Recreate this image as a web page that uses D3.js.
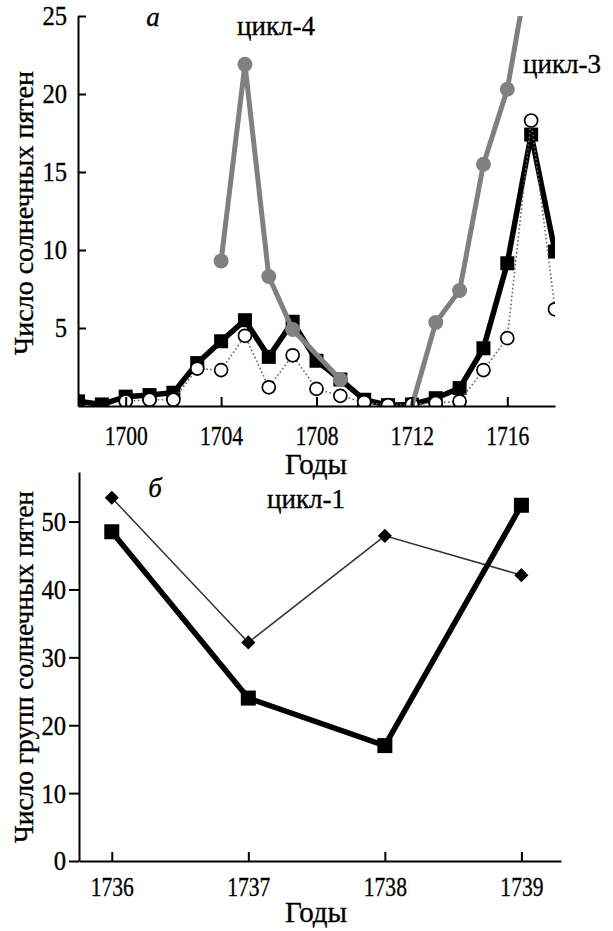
<!DOCTYPE html>
<html>
<head>
<meta charset="utf-8">
<script src="https://cdn.jsdelivr.net/npm/d3@7"></script>
<style>
  body { margin: 0; background: #fff; }
  svg text { stroke: #000; stroke-width: 0.35px; }
</style>
</head>
<body>
<script>
// ---- panel a: sunspot numbers, 1698-1718 ----
var yearsTop = [1698, 1699, 1700, 1701, 1702, 1703, 1704, 1705, 1706, 1707, 1708,
                1709, 1710, 1711, 1712, 1713, 1714, 1715, 1716, 1717, 1718];
// black squares, thick line
var spotsSquares = [0.3, 0.1, 0.6, 0.7, 0.85, 2.75, 4.15, 5.5, 3.15, 5.4, 2.9,
                    1.7, 0.4, 0.05, 0.1, 0.5, 1.15, 3.7, 9.15, 17.4, 9.9];
// open circles, dotted line (no values before 1700)
var spotsCircles = [null, null, 0.3, 0.4, 0.4, 2.4, 2.3, 4.5, 1.2, 3.25, 1.1,
                    0.65, 0.25, 0.05, 0.1, 0.2, 0.3, 2.3, 4.35, 18.3, 6.2];
// grey circles: cycle 4 and cycle 3
var cycle4Years = [1704, 1705, 1706, 1707, 1709];
var cycle4Values = [9.3, 21.9, 8.3, 4.9, 1.7];
var cycle3Years = [1712, 1713, 1714, 1715, 1716, 1717];
var cycle3Values = [0, 5.35, 7.4, 15.5, 20.3, 29];
var topXTicks = [1700, 1704, 1708, 1712, 1716];
var topYTicks = [5, 10, 15, 20, 25];

// ---- panel b: sunspot groups, 1736-1739 ----
var yearsBottom = [1736, 1737, 1738, 1739];
var groupsSquares = [48.5, 24.0, 17.0, 52.4];
var groupsDiamonds = [53.5, 32.2, 47.9, 42.1];
var bottomYTicks = [0, 10, 20, 30, 40, 50];

var width = 613, height = 931;
var serif = "'Liberation Serif', 'Times New Roman', serif";

var svg = d3.select("body")
    .append("svg")
    .attr("width", width)
    .attr("height", height)
    .attr("font-family", serif);

//squeeze tick labels horizontally (the figure uses a narrow face)
function condense(g, k){
    g.selectAll(".tick text").each(function(){
        var t = d3.select(this);
        var x = +t.attr("x") || 0;
        t.attr("x", x / k).attr("transform", "scale(" + k + ",1)");
    });
}

function styleAxis(g){
    g.attr("font-family", serif).attr("font-size", 28);
    g.select(".domain").attr("stroke", "#000").attr("stroke-width", 2);
    g.selectAll(".tick line").attr("stroke", "#000").attr("stroke-width", 2);
    g.selectAll(".tick text").attr("fill", "#000");
}

function label(x, y, txt, opts){
    var t = svg.append("text")
        .attr("x", x).attr("y", y)
        .attr("text-anchor", "middle")
        .attr("font-size", opts.size || 27)
        .text(txt);
    if (opts.italic) t.attr("font-style", "italic");
    return t;
}

function yLabel(x, yc, len, txt){
    svg.append("text")
        .attr("transform", "translate(" + x + "," + yc + ") rotate(-90)")
        .attr("text-anchor", "middle")
        .attr("font-size", 28)
        .attr("textLength", len)
        .attr("lengthAdjust", "spacingAndGlyphs")
        .text(txt);
}

// ================= panel a =================
var xA = d3.scaleLinear().domain([1698, 1718]).range([78, 555]);
var yA = d3.scaleLinear().domain([0, 25]).range([406, 16]);

svg.append("clipPath")
    .attr("id", "clipA")
    .append("rect")
    .attr("x", xA(1698))
    .attr("y", yA(25))
    .attr("width", xA(1718) - xA(1698))
    .attr("height", yA(0) - yA(25));

var plotA = svg.append("g").attr("clip-path", "url(#clipA)");

var seriesSq = yearsTop.map(function(y, i){ return {year: y, v: spotsSquares[i]}; });
var seriesCi = yearsTop.map(function(y, i){ return {year: y, v: spotsCircles[i]}; })
    .filter(function(d){ return d.v != null; });
var series4 = cycle4Years.map(function(y, i){ return {year: y, v: cycle4Values[i]}; });
var series3 = cycle3Years.map(function(y, i){ return {year: y, v: cycle3Values[i]}; });

var lineA = d3.line()
    .x(function(d){ return xA(d.year); })
    .y(function(d){ return yA(d.v); });

//black thick line with squares
plotA.append("path")
    .datum(seriesSq)
    .attr("d", lineA)
    .attr("fill", "none")
    .attr("stroke", "#000")
    .attr("stroke-width", 5.5)
    .attr("stroke-linejoin", "miter");

plotA.selectAll(".sqA")
    .data(seriesSq)
    .enter()
    .append("rect")
    .attr("class", "sqA")
    .attr("x", function(d){ return xA(d.year) - 7; })
    .attr("y", function(d){ return yA(d.v) - 7; })
    .attr("width", 14)
    .attr("height", 14)
    .attr("fill", "#000");

//dotted line with open circles
plotA.append("path")
    .datum(seriesCi)
    .attr("d", lineA)
    .attr("fill", "none")
    .attr("stroke", "#666")
    .attr("stroke-width", 1.6)
    .attr("stroke-dasharray", "1.6,2.4");

plotA.selectAll(".ciA")
    .data(seriesCi)
    .enter()
    .append("circle")
    .attr("class", "ciA")
    .attr("cx", function(d){ return xA(d.year); })
    .attr("cy", function(d){ return yA(d.v); })
    .attr("r", 6.5)
    .attr("fill", "#fff")
    .attr("stroke", "#000")
    .attr("stroke-width", 1.7);

//grey cycles
[series4, series3].forEach(function(s){
    plotA.append("path")
        .datum(s)
        .attr("d", lineA)
        .attr("fill", "none")
        .attr("stroke", "#808080")
        .attr("stroke-width", 5);
});

plotA.selectAll(".grA")
    .data(series4.concat(series3.filter(function(d){ return d.v > 0; })))
    .enter()
    .append("circle")
    .attr("class", "grA")
    .attr("cx", function(d){ return xA(d.year); })
    .attr("cy", function(d){ return yA(d.v); })
    .attr("r", 7.5)
    .attr("fill", "#808080");

//axes of panel a (ticks point inward)
var xAxisA = svg.append("g")
    .attr("transform", "translate(0," + yA(0) + ")")
    .call(d3.axisBottom(xA).tickValues(topXTicks).tickFormat(d3.format("d"))
        .tickSizeInner(-9).tickSizeOuter(0));
styleAxis(xAxisA);
xAxisA.selectAll(".tick text").attr("y", 39).attr("dy", 0);
condense(xAxisA, 0.77);

var yAxisA = svg.append("g")
    .attr("transform", "translate(" + xA(1698) + ",0)")
    .call(d3.axisLeft(yA).tickValues(topYTicks)
        .tickSizeInner(-8).tickSizeOuter(0).tickPadding(11));
styleAxis(yAxisA);
condense(yAxisA, 0.88);

label(316, 474, "Годы", {size: 29});
yLabel(33, 213, 284, "Число солнечных пятен");
label(153, 26, "а", {italic: true});
label(276, 35, "цикл-4", {});
label(562, 73, "цикл-3", {});

// ================= panel b =================
var xB = d3.scaleLinear().domain([1735.76, 1739.29]).range([79, 561]);
var yB = d3.scaleLinear().domain([0, 57.3]).range([861, 472]);

var seriesDi = yearsBottom.map(function(y, i){ return {year: y, v: groupsDiamonds[i]}; });
var seriesSqB = yearsBottom.map(function(y, i){ return {year: y, v: groupsSquares[i]}; });

var lineB = d3.line()
    .x(function(d){ return xB(d.year); })
    .y(function(d){ return yB(d.v); });

svg.append("path")
    .datum(seriesDi)
    .attr("d", lineB)
    .attr("fill", "none")
    .attr("stroke", "#333")
    .attr("stroke-width", 1.5);

svg.selectAll(".diB")
    .data(seriesDi)
    .enter()
    .append("path")
    .attr("class", "diB")
    .attr("d", d3.symbol().type(d3.symbolSquare).size(100))
    .attr("transform", function(d){
        return "translate(" + xB(d.year) + "," + yB(d.v) + ") rotate(45)";
    })
    .attr("fill", "#000");

svg.append("path")
    .datum(seriesSqB)
    .attr("d", lineB)
    .attr("fill", "none")
    .attr("stroke", "#000")
    .attr("stroke-width", 5.5);

svg.selectAll(".sqB")
    .data(seriesSqB)
    .enter()
    .append("rect")
    .attr("class", "sqB")
    .attr("x", function(d){ return xB(d.year) - 7.5; })
    .attr("y", function(d){ return yB(d.v) - 7.5; })
    .attr("width", 15)
    .attr("height", 15)
    .attr("fill", "#000");

var xAxisB = svg.append("g")
    .attr("transform", "translate(0," + yB(0) + ")")
    .call(d3.axisBottom(xB).tickValues(yearsBottom).tickFormat(d3.format("d"))
        .tickSizeInner(-9).tickSizeOuter(0));
styleAxis(xAxisB);
xAxisB.selectAll(".tick text").attr("y", 35).attr("dy", 0);
condense(xAxisB, 0.77);

var yAxisB = svg.append("g")
    .attr("transform", "translate(" + xB(1735.76) + ",0)")
    .call(d3.axisLeft(yB).tickValues(bottomYTicks)
        .tickSizeInner(10).tickSizeOuter(0).tickPadding(3));
styleAxis(yAxisB);
condense(yAxisB, 0.88);

label(316, 922, "Годы", {size: 29});
yLabel(33, 667, 352, "Число групп солнечных пятен");
label(155, 497, "б", {italic: true});
label(306, 508, "цикл-1", {});
</script>
</body>
</html>
